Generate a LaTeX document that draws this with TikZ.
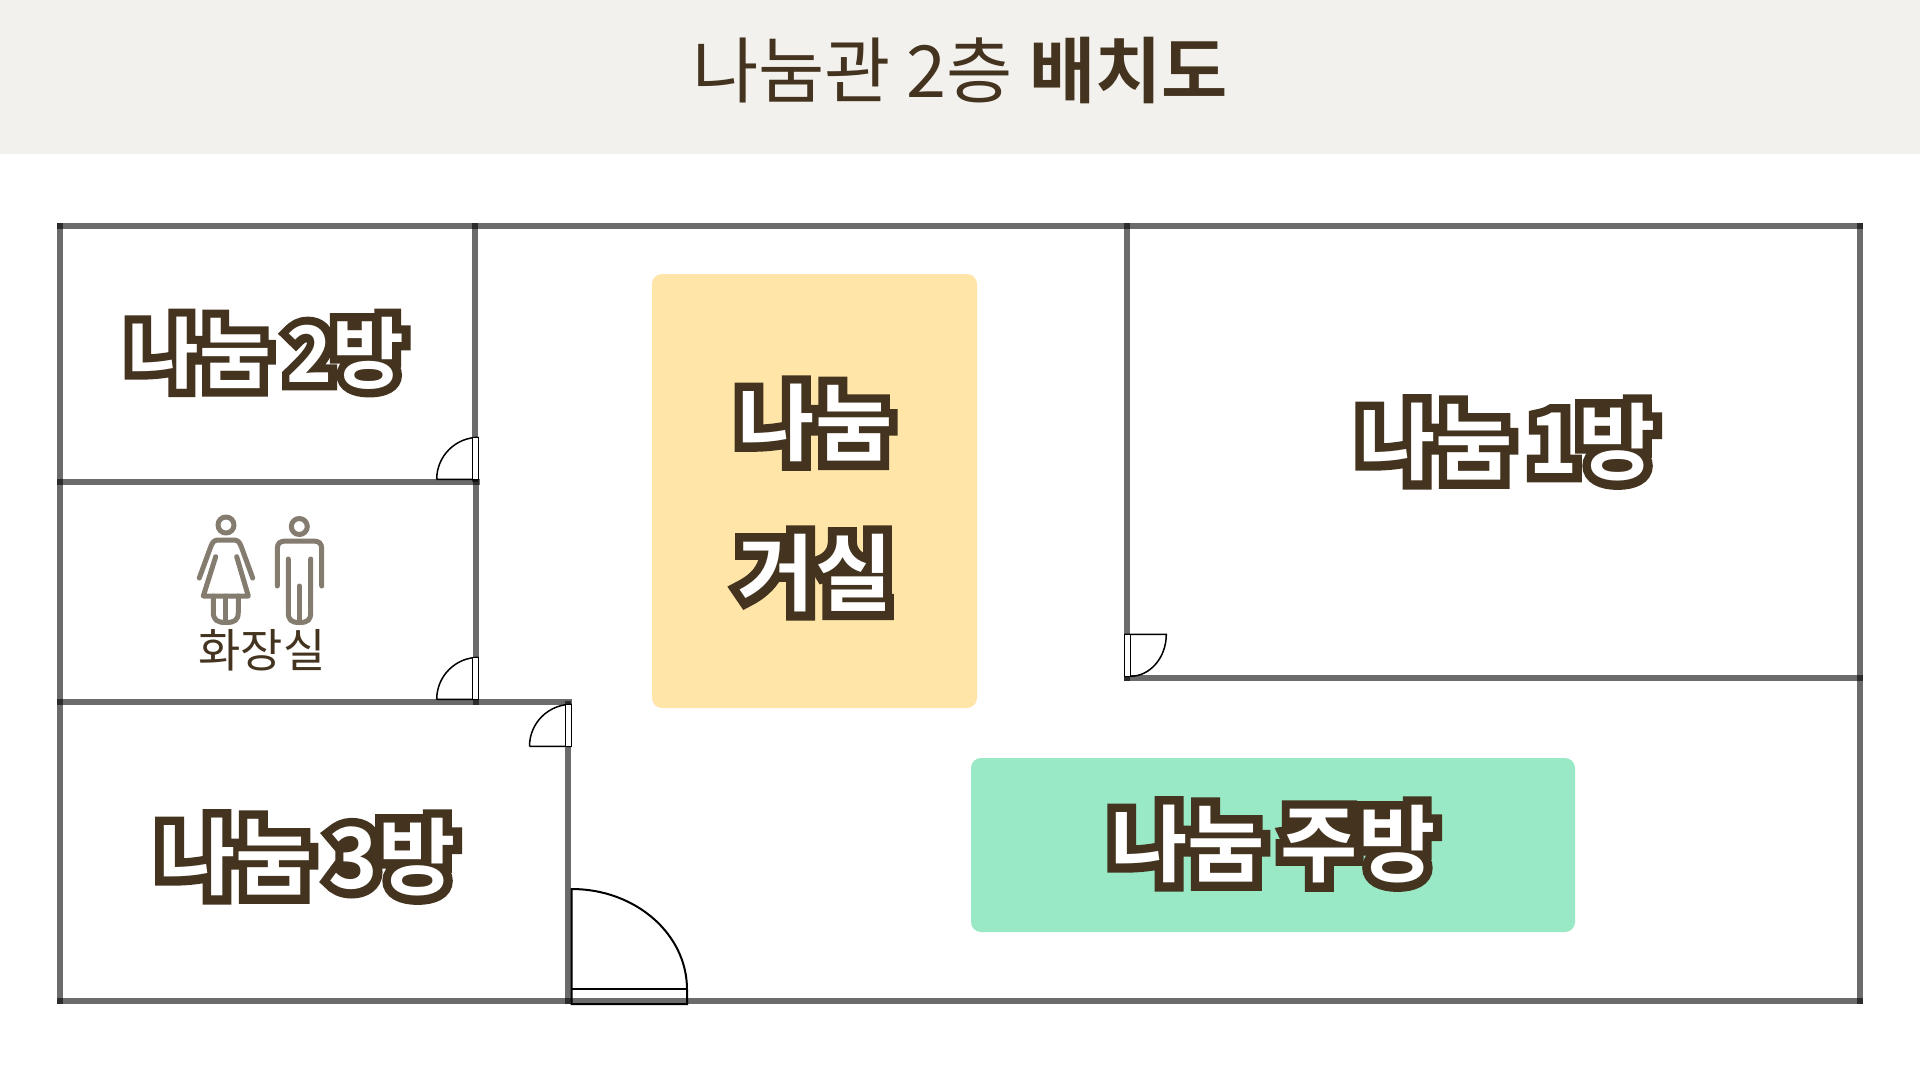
\documentclass[tikz,border=0pt]{standalone}
\usepackage{fontspec}
\setmainfont{Noto Sans CJK KR}
\newfontfamily\fillfont{Noto Sans CJK KR Bold}
\newfontfamily\strokefont[FakeBold=21]{Noto Sans CJK KR Bold}
\newfontfamily\lightfont{Noto Sans CJK KR}
\definecolor{ink}{HTML}{44341F}
\definecolor{band}{HTML}{F3F1ED}
\definecolor{sand}{HTML}{FFE5A8}
\definecolor{mint}{HTML}{99E8C6}
\definecolor{iconc}{HTML}{857C70}
\newcommand\outl[2]{\fontsize{#1}{#1}\selectfont\rlap{\strokefont\color{ink}#2}{\fillfont\color{white}#2}}
\tikzset{
 wallline/.style={draw=black,draw opacity=.58,line width=6pt,line cap=rect},
 doorline/.style={draw=black,line width=1.5pt},
 leaf/.style={draw=black,fill=white,line width=1.5pt},
 icon/.style={draw=iconc,line width=5pt,line cap=round,line join=round},
 roomlabel/.style={inner sep=0pt,anchor=center},
}
\begin{document}
\begin{tikzpicture}[x=1pt,y=-1pt]
\useasboundingbox (0,0) rectangle (1920,1080);
\fill[white] (0,0) rectangle (1920,1080);
\fill[band] (0,0) rectangle (1920,154);
\node[inner sep=0pt,text=ink] (title) at (960,70) {\fontsize{72}{72}\selectfont\lightfont 나눔관 2층 {\fillfont 배치도}};
% zones
\fill[sand,rounded corners=10pt] (652,274) rectangle (977,708);
\fill[mint,rounded corners=10pt] (971,758) rectangle (1575,932);
% walls
\draw[wallline] (60,225.5) -- (1860,225.5);
\draw[wallline] (60,225.5) -- (60,1000.5);
\draw[wallline] (1860,225.5) -- (1860,1000.5);
\draw[wallline] (60,1000.5) -- (1860,1000.5);
\draw[wallline] (475,225.5) -- (475,479);
\draw[wallline] (476,482) -- (476,702);
\draw[wallline] (60,482) -- (477,482);
\draw[wallline] (60,702) -- (569,702);
\draw[wallline] (568,704) -- (568,1000.5);
\draw[wallline] (1127,225.5) -- (1127,678);
\draw[wallline] (1127,678) -- (1860,678);
% doors
\draw[doorline] (436.7,479.3) arc[start angle=180,end angle=90,radius=42pt] -- (478.7,437.3) (436.7,479.3) -- (478.7,479.3);
\draw[leaf] (472.5,437.3) rectangle (478.7,479.3);
\draw[doorline] (436.7,699.3) arc[start angle=180,end angle=90,radius=42pt] -- (478.7,657.3) (436.7,699.3) -- (478.7,699.3);
\draw[leaf] (472.5,657.3) rectangle (478.7,699.3);
\draw[doorline] (529.5,746.3) arc[start angle=180,end angle=90,radius=42pt] -- (571.7,704.3) (529.5,746.3) -- (571.7,746.3);
\draw[leaf] (565.7,704.3) rectangle (571.7,746.3);
\draw[doorline] (1124.3,634.3) -- (1166.3,634.3) arc[start angle=0,end angle=-90,x radius=36pt,y radius=42pt] -- (1124.3,676.3);
\draw[leaf] (1124.3,634.3) rectangle (1130.3,676.3);
\draw[line width=2pt] (571.7,889) arc[start angle=90,end angle=0,x radius=115.3pt,y radius=100.3pt] -- (687,1004) -- (571.7,1004) -- cycle;
\draw[line width=2pt] (571.7,989.3) -- (687,989.3);
% woman
\draw[icon] (226,525) circle[radius=8pt];
\draw[icon] (199.3,578) -- (211,546) .. controls (213,541) and (215,540) .. (219,540) -- (233,540) .. controls (237,540) and (239,541) .. (241,546) -- (252.7,578);
\draw[icon] (215.7,556.7) -- (203.3,596) -- (248.3,596) -- (236.7,556.7);
\draw[icon] (213.3,596) -- (213.3,612) .. controls (213.3,620) and (217,622.5) .. (226,622.5) .. controls (235,622.5) and (238.3,620) .. (238.3,612) -- (238.3,596);
\draw[icon] (225.8,596) -- (225.8,621);
% man
\draw[icon] (299.3,526.5) circle[radius=8pt];
\draw[icon] (277.3,586) -- (277.3,549) .. controls (277.3,543) and (280,541) .. (286,541) -- (313,541) .. controls (319,541) and (321.7,543) .. (321.7,549) -- (321.7,586);
\draw[icon] (288.3,559) -- (288.3,612) .. controls (288.3,620) and (291,622.5) .. (299.5,622.5) .. controls (308,622.5) and (310.7,620) .. (310.7,612) -- (310.7,559);
\draw[icon] (299.3,586) -- (299.3,621);
\node[inner sep=0pt,text=ink] (wc) at (262,650) {\fontsize{46}{46}\selectfont\lightfont 화장실};
% labels
\node[roomlabel] (room2) at (266,353) {\outl{78}{나눔\hspace{16pt}2방}};
\node[roomlabel] (room1) at (1507,442) {\outl{84}{나눔\hspace{16pt}1방}};
\node[roomlabel] (room3) at (307,857) {\outl{84}{나눔\hspace{16pt}3방}};
\node[roomlabel] (kitchen) at (1273,844) {\outl{84}{나눔\hspace{16pt}주방}};
\node[roomlabel] (hall1) at (815,423) {\outl{84}{나눔}};
\node[roomlabel] (hall2) at (815,573) {\outl{84}{거실}};
\end{tikzpicture}
\end{document}
